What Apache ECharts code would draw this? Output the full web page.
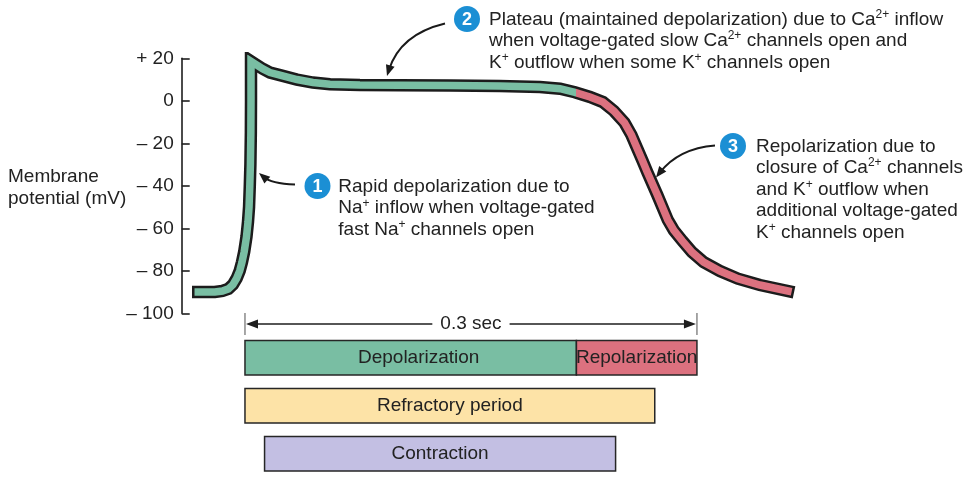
<!DOCTYPE html>
<html>
<head>
<meta charset="utf-8">
<script src="https://cdn.jsdelivr.net/npm/echarts@6/dist/echarts.min.js"></script>
<style>html,body{margin:0;padding:0;background:#fff}#c{width:979px;height:479px}</style>
</head>
<body>
<div id="c"></div>
<script>
// ---- data ----
const timeMs = [-31,-20,-15,-11,-8,-5.5,-3.5,-2,-0.5,1,2,2.7,3.2,3.6,3.9,4.0,4.0,11.9,16.6,23.2,34.5,45.1,56.4,76.3,102.9,136,169,195.8,209.1,219.0,229.0,237.6,244.9,251.9,256.5,260.5,263.8,267.1,273.8,280.6,284.7,290.3,296.7,304.4,315.3,327.2,341.8,360.4];
const potentialMv = [-90,-90,-89.5,-88.5,-86.5,-83.5,-80,-76,-71,-64,-57,-50,-40,-30,-15,0,18.6,15.0,13.3,12.1,10.0,8.6,7.8,7.4,7.3,7.2,7.0,6.5,5.7,4.0,1.8,-0.6,-4.8,-10.3,-16.1,-22.7,-28.1,-33.7,-44.5,-56.0,-61.0,-65.9,-71.2,-75.9,-80.1,-83.7,-86.7,-89.5];
const yTickValues = [-100,-80,-60,-40,-20,0,20];
const yTickLabels = ['\u2013 100','\u2013 80','\u2013 60','\u2013 40','\u2013 20','0','+ 20'];
const barNames = ['Depolarization','Repolarization','Refractory period','Contraction'];
const barStarts = [0, 220, 0, 13];
const barEnds = [220, 300, 272, 246];
const barRows = [0, 0, 1, 2];
const spanStart = [0];
const spanEnd = [300];
const spanLabel = ['0.3 sec'];
const yAxisTitle = 'Membrane\npotential (mV)';
const noteTexts = [
  'Rapid depolarization due to\nNa^{+} inflow when voltage-gated\nfast Na^{+} channels open',
  'Plateau (maintained depolarization) due to Ca^{2+} inflow\nwhen voltage-gated slow Ca^{2+} channels open and\nK^{+} outflow when some K^{+} channels open',
  'Repolarization due to\nclosure of Ca^{2+} channels\nand K^{+} outflow when\nadditional voltage-gated\nK^{+} channels open'
];
const noteNumbers = ['1','2','3'];

// ---- styles / layout ----
const FONT = '"Liberation Sans", Arial, Helvetica, sans-serif';
const TXT = '#222222';
const GREEN = '#79bea3';
const RED = '#dc717f';
const barFill = {'Depolarization': GREEN, 'Repolarization': RED, 'Refractory period': '#fde3a7', 'Contraction': '#c3bfe3'};
const labelShift = {'Depolarization': 8};
const BLUE = '#1b8fd4';
const G_LEFT = 181.7, G_WIDTH = 665.9, X_MIN = -42, X_MAX = 400;
const CORE_W = 7.5;

const apData = timeMs.map((t, i) => [t, potentialMv[i]]);
const barData = barNames.map((n, i) => [barStarts[i], barEnds[i], barRows[i], n]);
const spanData = spanStart.map((s, i) => [s, spanEnd[i], 0, spanLabel[i]]);

function richify(s) { return s.replace(/\^\{([^}]*)\}/g, '{s|$1}'); }

function arrow(x1, y1, cx, cy, x2, y2) {
  const dx = x2 - cx, dy = y2 - cy, L = Math.hypot(dx, dy);
  const ux = dx / L, uy = dy / L, nx = -uy, ny = ux;
  const hl = 11, hw = 4.5;
  const bx = x2 - ux * hl, by = y2 - uy * hl;
  return [
    {type: 'bezierCurve', z: 100, shape: {x1: x1, y1: y1, cpx1: cx, cpy1: cy, x2: x2 - ux * 6, y2: y2 - uy * 6},
      style: {stroke: '#1a1a1a', lineWidth: 2, fill: null}},
    {type: 'polygon', z: 100, shape: {points: [[x2, y2], [bx + nx * hw, by + ny * hw], [bx - nx * hw, by - ny * hw]]},
      style: {fill: '#1a1a1a'}}
  ];
}
function badge(cx, cy, label) {
  return [
    {type: 'circle', z: 100, shape: {cx: cx, cy: cy, r: 13}, style: {fill: BLUE}},
    {type: 'text', z: 101, x: cx, y: cy + 1, style: {text: label, fill: '#fff', font: 'bold 18px ' + FONT, align: 'center', verticalAlign: 'middle'}}
  ];
}
function note(x, y, s) {
  return {type: 'text', z: 100, x: x, y: y, style: {
    text: richify(s), font: '19px ' + FONT, fill: TXT, lineHeight: 21.6, verticalAlign: 'top', align: 'left',
    rich: {s: {fontSize: 12, fontFamily: FONT, fill: TXT, lineHeight: 10, verticalAlign: 'top'}}
  }};
}

const graphics = [].concat(
  [{type: 'text', z: 100, x: 8, y: 166, style: {text: yAxisTitle, font: '19px ' + FONT, fill: TXT, lineHeight: 21.6, verticalAlign: 'top'}}],
  badge(317.5, 186, noteNumbers[0]), arrow(295, 184.5, 271, 183.3, 259, 173), note(338.3, 175.7, noteTexts[0]),
  badge(467, 19, noteNumbers[1]), arrow(445, 23.5, 400, 34.3, 387, 76), note(489, 8.5, noteTexts[1]),
  badge(733, 146, noteNumbers[2]), arrow(715, 145.5, 678.5, 148.5, 656, 177.5), note(756, 135.5, noteTexts[2])
);

const chart = echarts.init(document.getElementById('c'), null, {renderer: 'canvas'});
const option = {
  animation: false,
  backgroundColor: '#ffffff',
  grid: [
    {left: G_LEFT, width: G_WIDTH, top: 58.3, height: 255},
    {left: G_LEFT, width: G_WIDTH, top: 333.8, height: 144}
  ],
  xAxis: [
    {type: 'value', gridIndex: 0, min: X_MIN, max: X_MAX, show: false},
    {type: 'value', gridIndex: 1, min: X_MIN, max: X_MAX, show: false}
  ],
  yAxis: [
    {type: 'value', gridIndex: 0, min: -100, max: 20, interval: 20,
      axisLine: {show: true, onZero: false, lineStyle: {color: '#1e1e1e', width: 1.6}},
      axisTick: {show: true, inside: true, length: 8, lineStyle: {color: '#1e1e1e', width: 1.6}},
      splitLine: {show: false},
      axisLabel: {margin: 8, fontSize: 19, fontFamily: FONT, color: TXT,
        formatter: v => { const i = yTickValues.indexOf(v); return i >= 0 ? yTickLabels[i] : ''; }}},
    {type: 'category', gridIndex: 1, data: ['0', '1', '2'], inverse: true, show: false,
      axisLine: {onZero: false}}
  ],
  series: [
    {type: 'line', xAxisIndex: 0, yAxisIndex: 0, data: apData, symbol: 'none', silent: true, z: 3,
      lineStyle: {width: 12.5, color: '#1c1c1c', cap: 'square', join: 'miter', miterLimit: 20}},
    {type: 'line', xAxisIndex: 0, yAxisIndex: 0, data: apData, symbol: 'none', silent: true, z: 4,
      lineStyle: {width: CORE_W, color: GREEN, cap: 'square', join: 'miter', miterLimit: 20}},
    {type: 'custom', xAxisIndex: 1, yAxisIndex: 1, data: barData, encode: {x: [0, 1], y: 2}, z: 5,
      renderItem: function (params, api) {
        const s = api.value(0), e = api.value(1), row = api.value(2);
        const name = barNames[params.dataIndex];
        const p0 = api.coord([s, row]), p1 = api.coord([e, row]);
        const h = api.size([0, 1])[1] * 0.72;
        return {type: 'group', children: [
          {type: 'rect', shape: {x: p0[0], y: p0[1] - h / 2, width: p1[0] - p0[0], height: h},
            style: {fill: barFill[name], stroke: '#262626', lineWidth: 1.5}},
          {type: 'text', x: (p0[0] + p1[0]) / 2 + (labelShift[name] || 0), y: p0[1],
            style: {text: name, font: '19px ' + FONT, fill: TXT, align: 'center', verticalAlign: 'middle'}}
        ]};
      }},
    {type: 'custom', xAxisIndex: 1, yAxisIndex: 1, data: spanData, encode: {x: [0, 1], y: 2}, z: 5,
      renderItem: function (params, api) {
        const p0 = api.coord([api.value(0), 0]), p1 = api.coord([api.value(1), 0]);
        const y = p0[1] - api.size([0, 1])[1] * 0.704;
        const mid = (p0[0] + p1[0]) / 2, hl = 12, hw = 4.5, c = '#1e1e1e';
        return {type: 'group', children: [
          {type: 'line', shape: {x1: p0[0], y1: y - 11, x2: p0[0], y2: y + 11}, style: {stroke: '#777', lineWidth: 1.3}},
          {type: 'line', shape: {x1: p1[0], y1: y - 11, x2: p1[0], y2: y + 11}, style: {stroke: '#777', lineWidth: 1.3}},
          {type: 'line', shape: {x1: p0[0] + 4, y1: y, x2: p1[0] - 4, y2: y}, style: {stroke: c, lineWidth: 1.6}},
          {type: 'polygon', shape: {points: [[p0[0] + 1, y], [p0[0] + 1 + hl, y - hw], [p0[0] + 1 + hl, y + hw]]}, style: {fill: c}},
          {type: 'polygon', shape: {points: [[p1[0] - 1, y], [p1[0] - 1 - hl, y - hw], [p1[0] - 1 - hl, y + hw]]}, style: {fill: c}},
          {type: 'text', x: mid, y: y, style: {text: spanLabel[params.dataIndex], font: '19px ' + FONT, fill: TXT, align: 'center', verticalAlign: 'middle', backgroundColor: '#fff', padding: [0, 8]}}
        ]};
      }}
  ],
  graphic: graphics
};
chart.setOption(option);

// colour the core of the trace: green during depolarization, red from repolarization onset
const xs = apData.map(p => chart.convertToPixel({gridIndex: 0}, p)[0]);
const pxMin = Math.min.apply(null, xs) - CORE_W / 2;
const pxMax = Math.max.apply(null, xs) + CORE_W / 2;
const pxJ = chart.convertToPixel({gridIndex: 0}, [barStarts[1], 0])[0];
const f = Math.min(1, Math.max(0, (pxJ - pxMin) / (pxMax - pxMin)));
chart.setOption({series: [{}, {lineStyle: {color: new echarts.graphic.LinearGradient(0, 0, 1, 0, [
  {offset: 0, color: GREEN}, {offset: f, color: GREEN}, {offset: f, color: RED}, {offset: 1, color: RED}
])}}]});
</script>
</body>
</html>
